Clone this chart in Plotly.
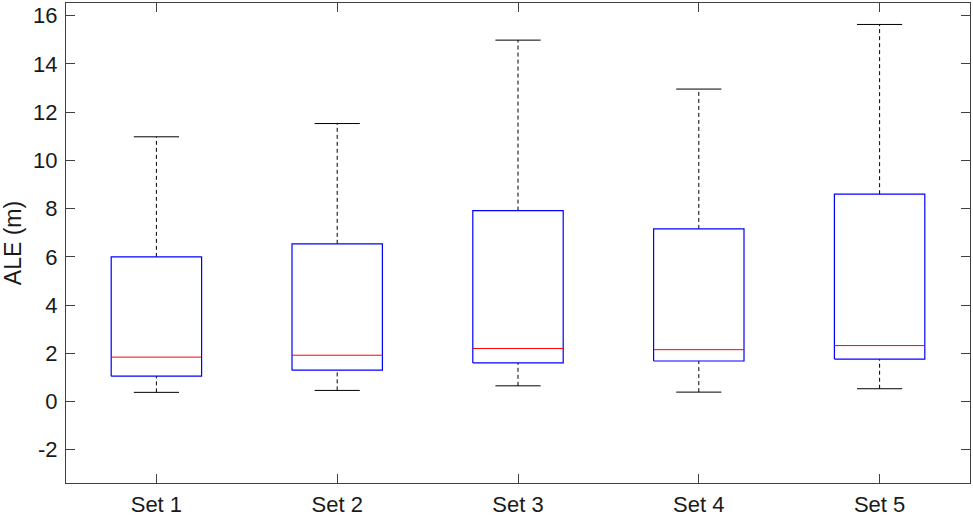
import plotly.graph_objects as go

categories = ["Set 1", "Set 2", "Set 3", "Set 4", "Set 5"]
lower_whisker = [0.38, 0.46, 0.65, 0.39, 0.53]
q1 = [1.05, 1.30, 1.60, 1.68, 1.76]
median = [1.84, 1.92, 2.20, 2.15, 2.32]
q3 = [6.00, 6.54, 7.92, 7.16, 8.60]
upper_whisker = [10.98, 11.53, 14.99, 12.96, 15.64]
y_ticks = [-2, 0, 2, 4, 6, 8, 10, 12, 14, 16]
y_tick_labels = ["-2", "0", "2", "4", "6", "8", "10", "12", "14", "16"]

box_half = 0.25
cap_half = 0.125
positions = list(range(1, len(categories) + 1))

bx, by = [], []
mx, my = [], []
wx, wy = [], []
cx, cy = [], []
for p, lo, a, m, b, hi in zip(positions, lower_whisker, q1, median, q3, upper_whisker):
    bx += [p - box_half, p + box_half, p + box_half, p - box_half, p - box_half, None]
    by += [a, a, b, b, a, None]
    mx += [p - box_half, p + box_half, None]
    my += [m, m, None]
    wx += [p, p, None, p, p, None]
    wy += [b, hi, None, lo, a, None]
    cx += [p - cap_half, p + cap_half, None, p - cap_half, p + cap_half, None]
    cy += [hi, hi, None, lo, lo, None]

fig = go.Figure()
fig.add_trace(go.Scatter(x=wx, y=wy, mode="lines",
                         line=dict(color="#000000", width=1, dash="4px,3px"),
                         hoverinfo="skip", showlegend=False))
fig.add_trace(go.Scatter(x=cx, y=cy, mode="lines",
                         line=dict(color="#000000", width=1),
                         hoverinfo="skip", showlegend=False))
fig.add_trace(go.Scatter(x=bx, y=by, mode="lines",
                         line=dict(color="#0000ff", width=1.2),
                         hoverinfo="skip", showlegend=False))
fig.add_trace(go.Scatter(x=mx, y=my, mode="lines",
                         line=dict(color="#ff0000", width=1),
                         hoverinfo="skip", showlegend=False))

font_family = "Liberation Sans, Arial, sans-serif"
axis_common = dict(
    showline=True, linecolor="#404040", linewidth=1, mirror="allticks",
    ticks="inside", ticklen=9, tickcolor="#404040", tickwidth=1,
    showgrid=False, zeroline=False, automargin=False,
    tickfont=dict(family=font_family, size=22, color="#1a1a1a"),
)

fig.update_layout(
    width=973, height=518,
    margin=dict(l=66, r=3, t=3, b=35),
    paper_bgcolor="white", plot_bgcolor="white",
    xaxis=dict(range=[0.5, 5.5], tickvals=positions, ticktext=categories,
               ticklabelstandoff=2, **axis_common),
    yaxis=dict(range=[-3.38, 16.53], tickvals=y_ticks, ticktext=y_tick_labels,
               ticklabelstandoff=3,
               title=dict(text="ALE (m)", standoff=6,
                          font=dict(family=font_family, size=23, color="#1a1a1a")),
               **axis_common),
)

fig.write_html("out.html", config={"displayModeBar": False},
               post_script="document.body.style.margin='0';document.body.style.overflow='hidden';")
